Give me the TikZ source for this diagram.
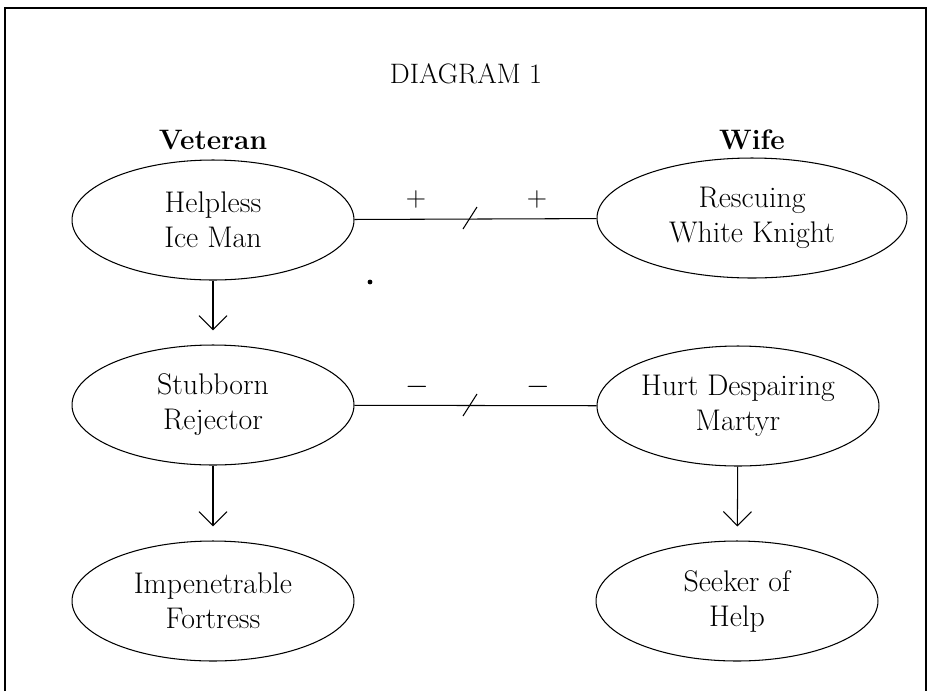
\documentclass[tikz,border=0pt]{standalone}
\usetikzlibrary{shapes.geometric,arrows.meta}
\tikzset{
  persona/.style={ellipse,draw,line width=0.6pt,minimum width=5.64cm,minimum height=2.4cm,
    inner xsep=0pt,align=center,font=\fontsize{17}{20}\selectfont},
  shiftarrow/.style={line width=0.6pt,-{Straight Barb[length=8pt,width=16pt]},shorten >=8pt},
  tie/.style={line width=0.6pt},
  sign/.style={font=\fontsize{16}{18}\selectfont}
}
\begin{document}
\begin{tikzpicture}[x=0.02cm,y=-0.02cm]
  \useasboundingbox (0,0) rectangle (931,691);
  % frame
  \draw[line width=1.1pt] (5,691) -- (5,8) -- (926,8) -- (926,691);
  \node[font=\fontsize{16}{19}\selectfont] (title) at (466,74) {DIAGRAM 1};
  \node[font=\fontsize{16}{19}\selectfont\bfseries] (veteran) at (213,140) {Veteran};
  \node[font=\fontsize{16}{19}\selectfont\bfseries] (wife) at (752,140) {Wife};
  % veteran side
  \node[persona] (iceman) at (213,220) {Helpless\\Ice Man};
  \node[persona] (rejector) at (213,405) {Stubborn\\Rejector};
  \node[persona] (fortress) at (213,601) {Impenetrable\\Fortress};
  % wife side
  \node[persona,minimum width=6.2cm] (knight) at (752,218) {Rescuing\\White Knight};
  \node[persona] (martyr) at (738,406) {Hurt Despairing\\Martyr};
  \node[persona] (seeker) at (737,601) {Seeker of\\Help};
  \draw[shiftarrow] (iceman) -- (rejector);
  \draw[shiftarrow] (rejector) -- (fortress);
  \draw[shiftarrow] (martyr) -- (seeker);
  % broken ties
  \draw[tie] (iceman) -- (knight);
  \draw[tie] (rejector) -- (martyr);
  \draw[tie] (463,229) -- (477,207);
  \draw[tie] (463,416) -- (477,394);
  \node[sign] (plusl) at (416,199) {+};
  \node[sign] (plusr) at (537,199) {+};
  \node[sign] (minl) at (417,387) {$-$};
  \node[sign] (minr) at (538,387) {$-$};
  \fill (370,282) circle (2.4);
\end{tikzpicture}
\end{document}
